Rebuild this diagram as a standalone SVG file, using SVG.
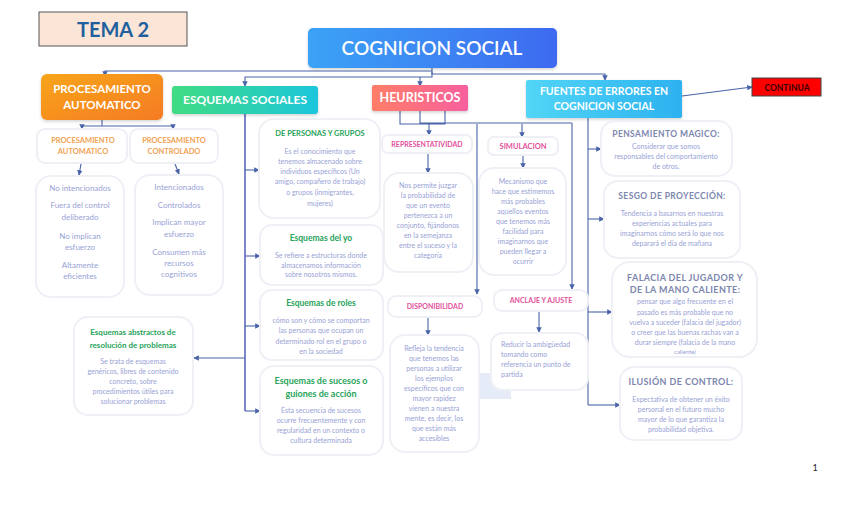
<svg xmlns="http://www.w3.org/2000/svg" width="848" height="515" viewBox="0 0 848 515">
<defs>
<linearGradient id="gBlue" x1="0" y1="0" x2="1" y2="0"><stop offset="0" stop-color="#3ba3f6"/><stop offset="1" stop-color="#3d6af0"/></linearGradient>
<linearGradient id="gOrange" x1="0" y1="0" x2="1" y2="1"><stop offset="0" stop-color="#f8a51a"/><stop offset="1" stop-color="#f57b24"/></linearGradient>
<linearGradient id="gGreen" x1="0" y1="0" x2="1" y2="0"><stop offset="0" stop-color="#40dc82"/><stop offset="1" stop-color="#1cc6dc"/></linearGradient>
<linearGradient id="gPink" x1="0" y1="0" x2="1" y2="0"><stop offset="0" stop-color="#ff7d68"/><stop offset="1" stop-color="#f7609e"/></linearGradient>
<linearGradient id="gCyan" x1="0" y1="0" x2="1" y2="0"><stop offset="0" stop-color="#52d5f6"/><stop offset="1" stop-color="#2db2f0"/></linearGradient>
<filter id="sh" x="-10%" y="-10%" width="120%" height="130%"><feDropShadow dx="0" dy="1.5" stdDeviation="1.5" flood-color="#000" flood-opacity="0.18"/></filter>
<marker id="ar" viewBox="0 0 8 8" refX="7" refY="4" markerWidth="5" markerHeight="5" orient="auto"><path d="M0,0 L8,4 L0,8 z" fill="#4a64a8"/></marker>
<style>
text{font-family:Lato,"Liberation Sans",sans-serif;text-anchor:middle}
.card{fill:#fff;stroke:#eef0f6;stroke-width:2}
.hd{fill:#fff;font-weight:bold}
.body{fill:#98a2d6;font-size:7px}
.gt{fill:#27a35a;font-weight:bold}
.pk{fill:#e2519b;font-size:7px;font-weight:bold}
.og{fill:#f0a254;font-size:7.5px;font-weight:bold}
.ft{fill:#7c86ae;font-weight:bold;letter-spacing:0.4px}
.ln{fill:none;stroke:#4a64a8;stroke-width:1.1}
.la{fill:none;stroke:#4a64a8;stroke-width:1.1;marker-end:url(#ar)}
</style>
</defs>

<g id="connectors">
<path class="la" d="M432,68 V71 H105 V76"/>
<path class="la" d="M432,71 V77 H245 V86"/>
<path class="la" d="M420,77 V86"/>
<path class="la" d="M432,72 V74 H605 V80"/>
<path class="la" d="M682,96 L752,87"/>
<path class="ln" d="M102,120 V126"/>
<path class="la" d="M82,126 H173 V129"/>
<path class="la" d="M82,126 V129"/>
<path class="la" d="M81,164 L79,175"/>
<path class="la" d="M175,164 L179,174"/>
<path fill="none" stroke="#7c86c8" stroke-width="2" d="M245,114 V411"/>
<path class="la" d="M245,170 H259"/>
<path class="la" d="M245,256 H260"/>
<path class="la" d="M245,326 H260"/>
<path class="la" d="M245,411 H260"/>
<path class="la" d="M245,358 H194"/>
<path class="ln" d="M400,111 V124 H445 V111 M420,111 V124 M420,123 H572"/>
<path class="la" d="M429,124 V135"/>
<path class="la" d="M522,124 V137"/>
<path class="la" d="M477,124 V294"/>
<path class="la" d="M572,123 V289"/>
<path class="la" d="M428,153 V173"/>
<path class="la" d="M523,155 V168"/>
<path class="la" d="M428,317 V335"/>
<path class="la" d="M539,311 V332"/>
<path class="ln" d="M588,118 V405"/>
<path class="la" d="M588,149 H601"/>
<path class="la" d="M588,219 H604"/>
<path class="la" d="M588,312 H612"/>
<path class="la" d="M588,405 H620"/>
</g>

<g id="tema">
<rect x="39" y="12" width="148" height="34" fill="#fbe5d6" stroke="#555" stroke-width="1"/>
<text x="113" y="37" font-size="20" font-weight="bold" fill="#1f5f9e">TEMA 2</text>
</g>

<g id="cognicion">
<rect x="308" y="28" width="249" height="40" rx="5" fill="url(#gBlue)" filter="url(#sh)"/>
<text x="432" y="55" font-size="19" class="hd" style="font-weight:600">COGNICION SOCIAL</text>
</g>

<g id="proc-auto-head">
<rect x="41" y="74" width="122" height="46" rx="6" fill="url(#gOrange)" filter="url(#sh)"/>
<text x="102" y="93" font-size="11.5" class="hd">PROCESAMIENTO</text>
<text x="102" y="109" font-size="11.5" class="hd">AUTOMATICO</text>
</g>

<g id="esquemas-sociales">
<rect x="172" y="86" width="146" height="28" rx="3" fill="url(#gGreen)" filter="url(#sh)"/>
<text x="245" y="104" font-size="12" class="hd">ESQUEMAS SOCIALES</text>
</g>

<g id="heuristicos">
<rect x="372" y="85" width="96" height="26" rx="2" fill="url(#gPink)" filter="url(#sh)"/>
<text x="420" y="102" font-size="12.5" class="hd">HEURISTICOS</text>
</g>

<g id="fuentes">
<rect x="526" y="80" width="156" height="38" rx="2" fill="url(#gCyan)" filter="url(#sh)"/>
<text x="604" y="95" font-size="10.5" class="hd">FUENTES DE ERRORES EN</text>
<text x="604" y="110" font-size="10.5" class="hd">COGNICION SOCIAL</text>
</g>

<g id="continua">
<rect x="752" y="78" width="69" height="18" fill="#ff0000" stroke="#444" stroke-width="1"/>
<text x="787" y="90.5" font-size="8.5" font-weight="bold" fill="#3a0000">CONTINUA</text>
</g>

<g id="proc-automatico">
<rect class="card" x="37" y="129" width="90" height="34" rx="8"/>
<text class="og" x="83" y="143">PROCESAMIENTO</text>
<text class="og" x="83" y="154">AUTOMATICO</text>
</g>

<g id="proc-controlado">
<rect class="card" x="130" y="129" width="88" height="34" rx="8"/>
<text class="og" x="174" y="143">PROCESAMIENTO</text>
<text class="og" x="174" y="154">CONTROLADO</text>
</g>

<g id="lista-auto">
<rect class="card" x="36" y="176" width="88" height="121" rx="15"/>
<text class="body" style="font-size:8px" x="80" y="191">No intencionados</text>
<text class="body" style="font-size:8px" x="80" y="208">Fuera del control</text>
<text class="body" style="font-size:8px" x="80" y="220">deliberado</text>
<text class="body" style="font-size:8px" x="80" y="239">No implican</text>
<text class="body" style="font-size:8px" x="80" y="250">esfuerzo</text>
<text class="body" style="font-size:8px" x="80" y="268">Altamente</text>
<text class="body" style="font-size:8px" x="80" y="279">eficientes</text>
</g>

<g id="lista-contr">
<rect class="card" x="135" y="175" width="88" height="120" rx="15"/>
<text class="body" style="font-size:8px" x="179" y="190">Intencionados</text>
<text class="body" style="font-size:8px" x="179" y="208">Controlados</text>
<text class="body" style="font-size:8px" x="179" y="225">Implican mayor</text>
<text class="body" style="font-size:8px" x="179" y="237">esfuerzo</text>
<text class="body" style="font-size:8px" x="179" y="255">Consumen más</text>
<text class="body" style="font-size:8px" x="179" y="266">recursos</text>
<text class="body" style="font-size:8px" x="179" y="277">cognitivos</text>
</g>

<g id="personas-grupos">
<rect class="card" x="259" y="119" width="121" height="99" rx="15"/>
<text class="gt" style="font-size:7.5px" x="320" y="136">DE PERSONAS Y GRUPOS</text>
<text class="body" x="320" y="154">Es el conocimiento que</text>
<text class="body" x="320" y="164">tenemos almacenado sobre</text>
<text class="body" x="320" y="174">individuos específicos (Un</text>
<text class="body" x="320" y="184">amigo, compañero de trabajo)</text>
<text class="body" x="320" y="195">o grupos (inmigrantes,</text>
<text class="body" x="320" y="206">mujeres)</text>
</g>

<g id="esquemas-yo">
<rect class="card" x="260" y="225" width="123" height="60" rx="12"/>
<text class="gt" style="font-size:8.5px" x="321" y="241">Esquemas del yo</text>
<text class="body" x="321" y="258">Se refiere a estructuras donde</text>
<text class="body" x="321" y="268">almacenamos información</text>
<text class="body" x="321" y="277">sobre nosotros mismos.</text>
</g>

<g id="esquemas-roles">
<rect class="card" x="260" y="290" width="123" height="70" rx="12"/>
<text class="gt" style="font-size:8.5px" x="321" y="306">Esquemas de roles</text>
<text class="body" x="321" y="323">cómo son y cómo se comportan</text>
<text class="body" x="321" y="333">las personas que ocupan un</text>
<text class="body" x="321" y="344">determinado rol en el grupo o</text>
<text class="body" x="321" y="354">en la sociedad</text>
</g>

<g id="esquemas-sucesos">
<rect class="card" x="260" y="366" width="123" height="89" rx="14"/>
<text class="gt" style="font-size:9px" x="321" y="384">Esquemas de sucesos o</text>
<text class="gt" style="font-size:9px" x="321" y="397">guiones de acción</text>
<text class="body" x="321" y="413">Esta secuencia de sucesos</text>
<text class="body" x="321" y="423">ocurre frecuentemente y con</text>
<text class="body" x="321" y="433">regularidad en un contexto o</text>
<text class="body" x="321" y="443">cultura determinada</text>
</g>

<g id="esquemas-abstractos">
<rect class="card" x="74" y="317" width="119" height="98" rx="14"/>
<text class="gt" style="font-size:8px" x="133" y="335">Esquemas abstractos de</text>
<text class="gt" style="font-size:8px" x="133" y="348">resolución de problemas</text>
<text class="body" x="133" y="364">Se trata de esquemas</text>
<text class="body" x="133" y="374">genéricos, libres de contenido</text>
<text class="body" x="133" y="384">concreto, sobre</text>
<text class="body" x="133" y="394">procedimientos útiles para</text>
<text class="body" x="133" y="404">solucionar problemas</text>
</g>

<g id="representatividad">
<rect class="card" x="382" y="135" width="90" height="18" rx="6"/>
<text class="pk" x="427" y="146.5">REPRESENTATIVIDAD</text>
<rect class="card" x="384" y="173" width="89" height="99" rx="15"/>
<text class="body" x="428" y="188">Nos permite juzgar</text>
<text class="body" x="428" y="198">la probabilidad de</text>
<text class="body" x="428" y="208">que un evento</text>
<text class="body" x="428" y="218">pertenezca a un</text>
<text class="body" x="428" y="228">conjunto, fijándonos</text>
<text class="body" x="428" y="238">en la semejanza</text>
<text class="body" x="428" y="248">entre el suceso y la</text>
<text class="body" x="428" y="258">categoría</text>
</g>

<g id="simulacion">
<rect class="card" x="488" y="137" width="70" height="18" rx="6"/>
<text class="pk" style="font-size:7.5px" x="523" y="149">SIMULACION</text>
<rect class="card" x="479" y="168" width="87" height="107" rx="15"/>
<text class="body" x="523" y="184">Mecanismo que</text>
<text class="body" x="523" y="194">hace que estimemos</text>
<text class="body" x="523" y="204">más probables</text>
<text class="body" x="523" y="214">aquellos eventos</text>
<text class="body" x="523" y="224">que tenemos más</text>
<text class="body" x="523" y="234">facilidad para</text>
<text class="body" x="523" y="244">imaginarnos que</text>
<text class="body" x="523" y="254">pueden llegar a</text>
<text class="body" x="523" y="264">ocurrir</text>
</g>

<rect x="474" y="373" width="37" height="26" fill="#e6ecf7"/>

<g id="disponibilidad">
<rect class="card" x="388" y="296" width="94" height="21" rx="8"/>
<text class="pk" x="435" y="309">DISPONIBILIDAD</text>
<rect class="card" x="390" y="335" width="89" height="117" rx="15"/>
<text class="body" x="434" y="351">Refleja la tendencia</text>
<text class="body" x="434" y="361">que tenemos las</text>
<text class="body" x="434" y="371">personas a utilizar</text>
<text class="body" x="434" y="381">los ejemplos</text>
<text class="body" x="434" y="391">específicos que con</text>
<text class="body" x="434" y="401">mayor rapidez</text>
<text class="body" x="434" y="411">vienen a nuestra</text>
<text class="body" x="434" y="421">mente, es decir, los</text>
<text class="body" x="434" y="431">que están más</text>
<text class="body" x="434" y="441">accesibles</text>
</g>

<g id="anclaje">
<rect class="card" x="494" y="290" width="94" height="21" rx="8"/>
<text class="pk" x="541" y="303">ANCLAJE Y AJUSTE</text>
<rect class="card" x="491" y="333" width="97" height="57" rx="12"/>
<text class="body" style="text-anchor:start" x="501" y="347">Reducir la ambigüedad</text>
<text class="body" style="text-anchor:start" x="501" y="357">tomando como</text>
<text class="body" style="text-anchor:start" x="501" y="367">referencia un punto de</text>
<text class="body" style="text-anchor:start" x="501" y="377">partida</text>
</g>

<g id="pensamiento-magico">
<rect class="card" x="601" y="121" width="131" height="55" rx="14"/>
<text class="ft" style="font-size:8.5px" x="666" y="137">PENSAMIENTO MAGICO:</text>
<text class="body" x="666" y="149">Considerar que somos</text>
<text class="body" x="666" y="159">responsables del comportamiento</text>
<text class="body" x="666" y="169">de otros.</text>
</g>

<g id="sesgo-proyeccion">
<rect class="card" x="604" y="181" width="136" height="77" rx="14"/>
<text class="ft" style="font-size:8.5px" x="672" y="199">SESGO DE PROYECCIÓN:</text>
<text class="body" x="672" y="216">Tendencia a basarnos en nuestras</text>
<text class="body" x="672" y="226">experiencias actuales para</text>
<text class="body" x="672" y="236">imaginarnos cómo será lo que nos</text>
<text class="body" x="672" y="246">deparará el día de mañana</text>
</g>

<g id="falacia">
<rect class="card" x="612" y="262" width="145" height="95" rx="18"/>
<text class="ft" style="font-size:9px" x="685" y="281">FALACIA DEL JUGADOR Y</text>
<text class="ft" style="font-size:9px" x="685" y="293">DE LA MANO CALIENTE:</text>
<text class="body" x="685" y="304">pensar que algo frecuente en el</text>
<text class="body" x="685" y="315">pasado es más probable que no</text>
<text class="body" x="685" y="325">vuelva a suceder (falacia del jugador)</text>
<text class="body" x="685" y="335">o creer que las buenas rachas van a</text>
<text class="body" x="685" y="345">durar siempre (falacia de la mano</text>
<text class="body" style="font-size:6px" x="685" y="354">caliente)</text>
</g>

<g id="ilusion-control">
<rect class="card" x="620" y="367" width="122" height="73" rx="14"/>
<text class="ft" style="font-size:9px" x="681" y="385">ILUSIÓN DE CONTROL:</text>
<text class="body" x="681" y="402">Expectativa de obtener un éxito</text>
<text class="body" x="681" y="412">personal en el futuro mucho</text>
<text class="body" x="681" y="422">mayor de lo que garantiza la</text>
<text class="body" x="681" y="432">probabilidad objetiva.</text>
</g>

<text x="815" y="471" font-size="9" fill="#222" style="font-family:Lato,sans-serif">1</text>
</svg>
